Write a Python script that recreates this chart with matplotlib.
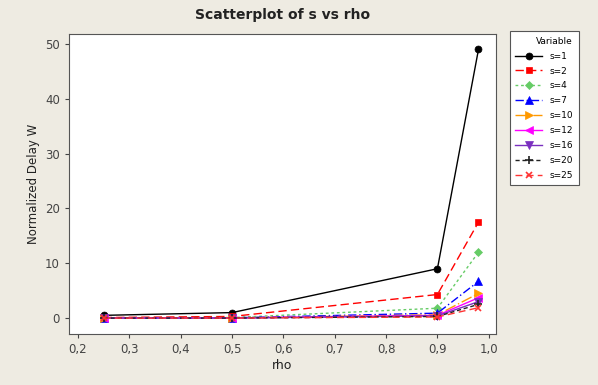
import matplotlib
matplotlib.use("Agg")
import matplotlib.pyplot as plt
from matplotlib.ticker import FuncFormatter

rho = [0.25, 0.5, 0.9, 0.98]
series_names = ["s=1", "s=2", "s=4", "s=7", "s=10", "s=12", "s=16", "s=20", "s=25"]
s1 = [0.5, 1.0, 9.0, 49.0]
s2 = [0.1, 0.3, 4.3, 17.5]
s4 = [0.05, 0.1, 1.8, 12.0]
s7 = [0.02, 0.05, 0.9, 6.7]
s10 = [0.01, 0.03, 0.6, 4.5]
s12 = [0.0, 0.02, 0.5, 3.7]
s16 = [0.0, 0.01, 0.4, 3.0]
s20 = [0.0, 0.0, 0.3, 2.5]
s25 = [0.0, 0.0, 0.2, 1.9]
values = [s1, s2, s4, s7, s10, s12, s16, s20, s25]

styles = [
    dict(color="black", marker="o", ls="-", ms=5),
    dict(color="#FF0000", marker="s", ls=(0, (6, 3)), ms=5),
    dict(color="#66CC66", marker="D", ls=(0, (2, 2)), ms=4.5),
    dict(color="#0000FF", marker="^", ls=(0, (6, 2, 1, 2)), ms=5.5),
    dict(color="#FF9900", marker=">", ls=(0, (8, 2, 1, 2)), ms=5.5),
    dict(color="#FF00FF", marker="<", ls="-", ms=5.5),
    dict(color="#7A2FBF", marker="v", ls="-", ms=5.5),
    dict(color="#222222", marker="+", ls=(0, (3, 2)), ms=6),
    dict(color="#FF3333", marker="x", ls=(0, (5, 3)), ms=5),
]

plt.rcParams['font.family'] = ['DejaVu Sans']
bg = "#EEEBE2"
fig = plt.figure(figsize=(5.98, 3.85), dpi=100, facecolor=bg)
ax = fig.add_axes([0.1154, 0.1325, 0.7136, 0.779])
ax.set_facecolor("white")

for name, vals, st in zip(series_names, values, styles):
    ax.plot(rho, vals, color=st["color"], marker=st["marker"], linestyle=st["ls"],
            markersize=st["ms"], linewidth=1.0, label=name,
            markeredgewidth=1.2 if st["marker"] in "+x" else 0.5)

ax.set_xlim(0.1825, 1.0136)
ax.set_ylim(-2.9, 51.8)
ax.set_xticks([0.2, 0.3, 0.4, 0.5, 0.6, 0.7, 0.8, 0.9, 1.0])
ax.set_yticks([0, 10, 20, 30, 40, 50])
ax.xaxis.set_major_formatter(FuncFormatter(lambda v, p: f"{v:.1f}".replace(".", ",")))
ax.tick_params(labelsize=8.5, colors="#444444", length=3)
for sp in ax.spines.values():
    sp.set_color("#555555")
ax.set_xlabel("rho", fontsize=9, color="#222222", labelpad=2)
ax.set_ylabel("Normalized Delay W", fontsize=8.5, color="#222222")
fig.text(0.473, 0.96, "Scatterplot of s vs rho", ha="center", va="center",
         fontsize=10, fontweight="bold", color="#222222")

leg = fig.legend(loc="upper left", bbox_to_anchor=(0.845, 0.93), title="Variable",
                 fontsize=6.5, title_fontsize=6.5, frameon=True, fancybox=False,
                 edgecolor="#555555", handlelength=3.0, labelspacing=0.65,
                 borderpad=0.6, framealpha=1)
leg.get_frame().set_linewidth(0.8)
leg._legend_box.align = "right"

fig.savefig("out.png", dpi=100, facecolor=bg)
